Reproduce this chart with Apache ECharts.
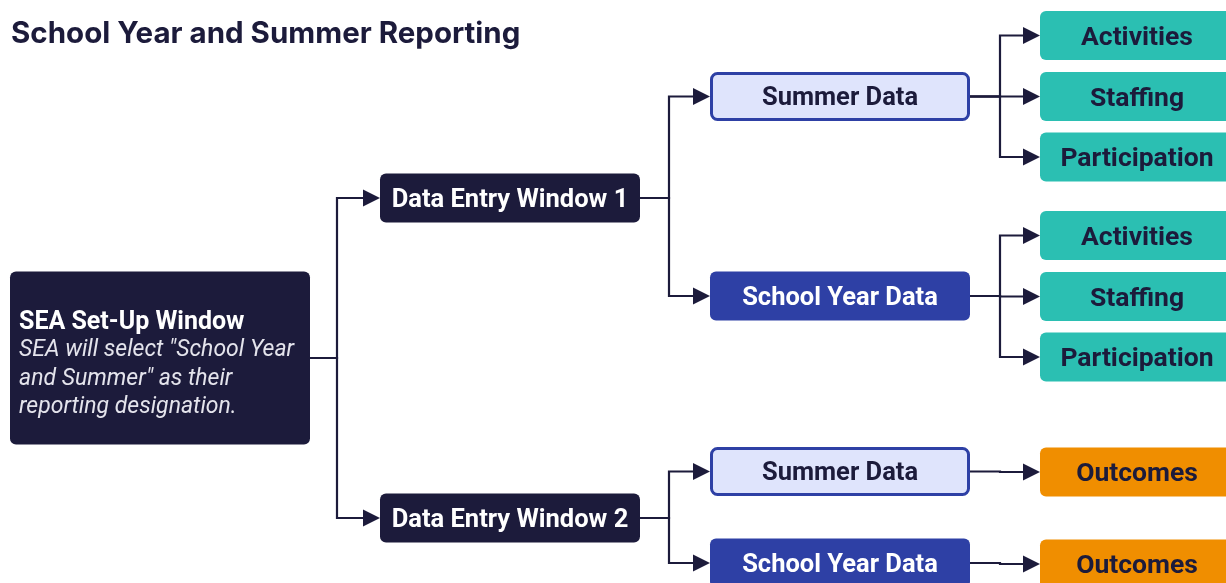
<!DOCTYPE html>
<html><head><meta charset="utf-8">
<script src="https://cdn.jsdelivr.net/npm/echarts@6/dist/echarts.min.js"></script>
<style>html,body{margin:0;padding:0;background:#fff}#chart{width:1226px;height:583px}</style>
</head><body><div id="chart"></div>
<script>
// ---- data ----
const chartTitle = 'School Year and Summer Reporting';
const nodeNames = ['SEA Set-Up Window', 'Data Entry Window 1', 'Data Entry Window 2',
  'Summer Data', 'School Year Data', 'Summer Data', 'School Year Data',
  'Activities', 'Staffing', 'Participation', 'Activities', 'Staffing', 'Participation',
  'Outcomes', 'Outcomes'];
const nodeLevels = [0, 1, 1, 2, 2, 2, 2, 3, 3, 3, 3, 3, 3, 3, 3];
const nodeRows = [358, 198, 518, 96.5, 296, 471.5, 563, 35.5, 96.5, 157, 235.5, 296.5, 357, 472, 564];
const nodeKinds = ['setup', 'window', 'window', 'summer', 'school', 'summer', 'school',
  'metric', 'metric', 'metric', 'metric', 'metric', 'metric', 'outcome', 'outcome'];
const setupNote = ['SEA will select "School Year', 'and Summer" as their', 'reporting designation.'];
const edgeFrom = [0, 0, 1, 1, 2, 2, 3, 3, 3, 4, 4, 4, 5, 6];
const edgeTo = [1, 2, 3, 4, 5, 6, 7, 8, 9, 10, 11, 12, 13, 14];

// ---- layout & style ----
const colLeft = [10, 380, 710, 1040];
const colWidth = [300, 260, 260, 194];
const elbowGap = [27, 29, 30];
const boxH = 49, setupH = 173;
const navy = '#1c1b3b', blue = '#2e40a5', lightBlue = '#dfe4fc', teal = '#2bbfb2', orange = '#f08e00';
const kindStyle = {
  setup: {fill: navy, text: '#ffffff', size: 25},
  window: {fill: navy, text: '#ffffff', size: 25.5},
  summer: {fill: lightBlue, stroke: blue, text: navy, size: 25.5},
  school: {fill: blue, text: '#ffffff', size: 25.5},
  metric: {fill: teal, text: navy, size: 26.5},
  outcome: {fill: orange, text: navy, size: 26.5}
};
const arrowLen = 17, arrowHalf = 8.5;

function nodeH(i) { return nodeKinds[i] === 'setup' ? setupH : boxH; }

const chart = echarts.init(document.getElementById('chart'), null, {renderer: 'canvas'});

function renderNode(params, api) {
  const i = api.value(2);
  const level = nodeLevels[i];
  const kind = nodeKinds[i];
  const st = kindStyle[kind];
  const w = colWidth[level], h = nodeH(i);
  const p = api.coord([colLeft[level], nodeRows[i]]);
  const children = [];
  const sw = st.stroke ? 3 : 0;
  children.push({
    type: 'rect',
    shape: {x: p[0] + sw / 2, y: p[1] - h / 2 + sw / 2, width: w - sw, height: h - sw, r: 6},
    style: {fill: st.fill, stroke: st.stroke || null, lineWidth: sw}
  });
  if (kind === 'setup') {
    children.push({type: 'text', style: {text: nodeNames[i], x: p[0] + 9, y: p[1] - 35.5,
      align: 'left', verticalAlign: 'middle', font: 'bold ' + st.size + 'px Roboto', fill: st.text}});
    setupNote.forEach((line, k) => {
      children.push({type: 'text', style: {text: line, x: p[0] + 9, y: p[1] - 7.5 + k * 28.5,
        align: 'left', verticalAlign: 'middle', font: 'italic 23px Roboto', fill: '#e4e4ec'}});
    });
  } else {
    children.push({type: 'text', style: {text: nodeNames[i], x: p[0] + w / 2, y: p[1] + 2.5,
      align: 'center', verticalAlign: 'middle', font: 'bold ' + st.size + 'px Roboto', fill: st.text}});
  }
  return {type: 'group', children: children};
}

function renderEdge(params, api) {
  const s = api.value(0), t = api.value(1);
  const ls = nodeLevels[s], lt = nodeLevels[t];
  const a = api.coord([colLeft[ls] + colWidth[ls], nodeRows[s]]);
  const b = api.coord([colLeft[lt], nodeRows[t]]);
  const ex = a[0] + elbowGap[ls];
  return {type: 'group', children: [
    {type: 'polyline', shape: {points: [[a[0], a[1]], [ex, a[1]], [ex, b[1]], [b[0] - arrowLen + 1, b[1]]]},
      style: {stroke: navy, lineWidth: 2.2, fill: null}},
    {type: 'polygon', shape: {points: [[b[0], b[1]], [b[0] - arrowLen, b[1] - arrowHalf], [b[0] - arrowLen, b[1] + arrowHalf]]},
      style: {fill: navy}}
  ]};
}

chart.setOption({
  animation: false,
  backgroundColor: '#ffffff',
  title: {text: chartTitle, left: 6, top: 14,
    textStyle: {fontFamily: 'Inter', fontWeight: 'bold', fontSize: 29.5, color: navy}},
  grid: {left: 0, right: 0, top: 0, bottom: 0},
  xAxis: {type: 'value', min: 0, max: 1226, show: false},
  yAxis: {type: 'value', min: 0, max: 583, inverse: true, show: false},
  series: [
    {type: 'custom', silent: true, clip: false, renderItem: renderEdge,
      encode: {x: -1, y: -1},
      data: edgeFrom.map((f, k) => [f, edgeTo[k]])},
    {type: 'custom', silent: true, clip: false, renderItem: renderNode,
      encode: {x: -1, y: -1},
      data: nodeNames.map((n, i) => [nodeLevels[i], nodeRows[i], i])}
  ]
});
</script></body></html>
